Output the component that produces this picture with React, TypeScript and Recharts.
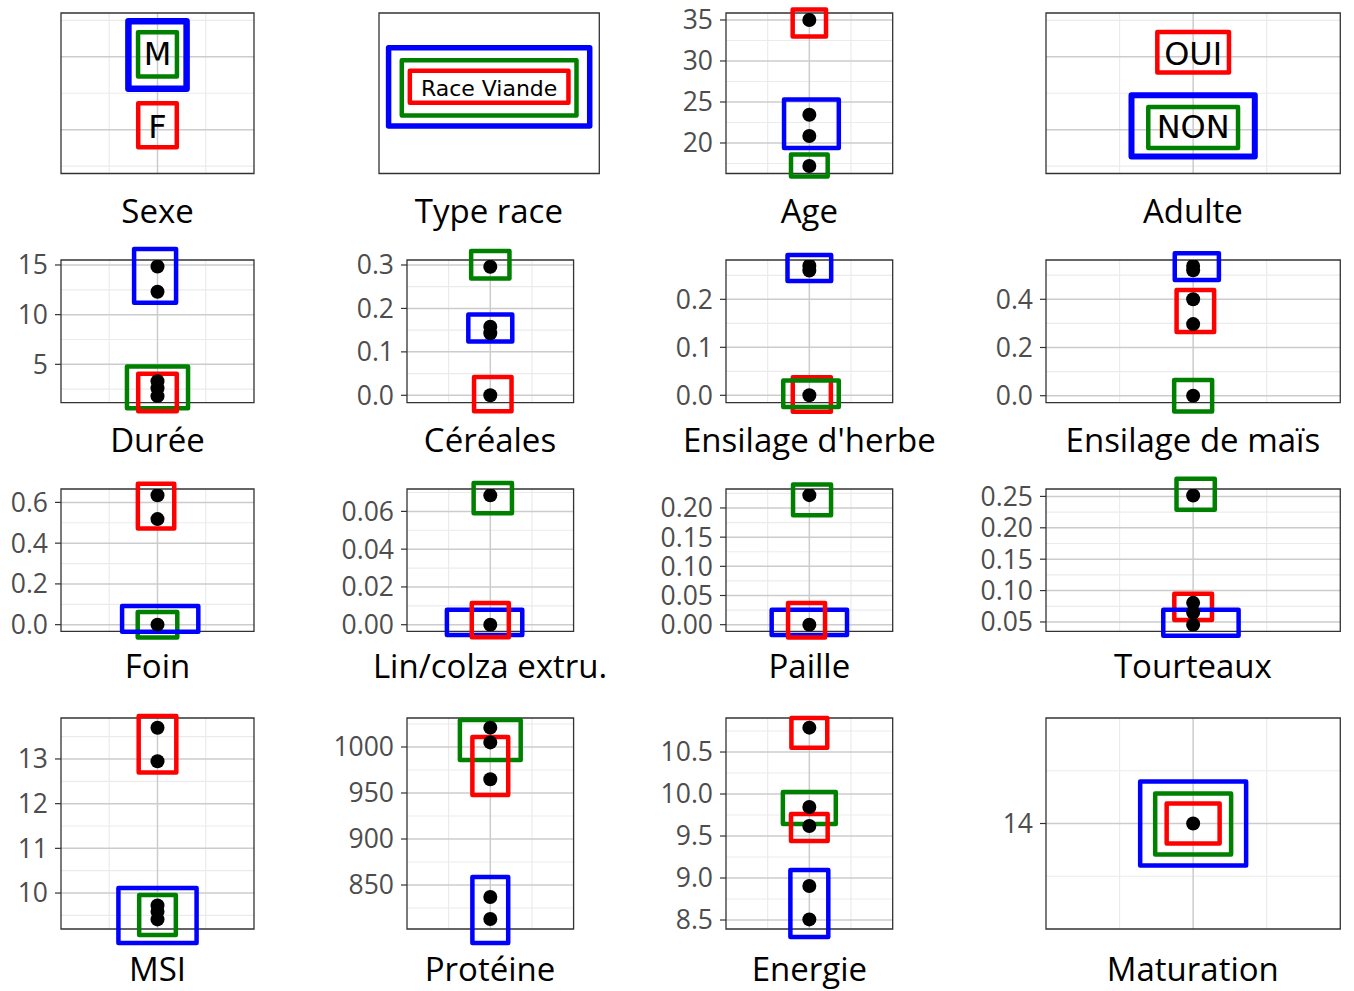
import React from 'react';
import { ScatterChart, Scatter, XAxis, YAxis, ReferenceLine, ReferenceArea } from 'recharts';

// cluster boxes: y1/y2 in data units, hw = half width on the 0..4 x scale, x = centre (default 2)
type Box = { cl: 'red' | 'green' | 'blue'; y1: number; y2: number; hw: number; x?: number };

// --- categorical panels ---
const sexeLabels = ['F', 'M'];
const sexeBoxes: Box[] = [
  { cl: 'blue', y1: 1.56, y2: 2.486, hw: 0.603 },
  { cl: 'green', y1: 1.728, y2: 2.337, hw: 0.403 },
  { cl: 'red', y1: 0.759, y2: 1.364, hw: 0.4 },
];

const raceLabels = ['Race Viande'];
const raceBoxes: Box[] = [
  { cl: 'blue', y1: 0.755, y2: 1.34, hw: 1.826 },
  { cl: 'green', y1: 0.834, y2: 1.247, hw: 1.586 },
  { cl: 'red', y1: 0.929, y2: 1.168, hw: 1.44 },
];

const adulteLabels = ['NON', 'OUI'];
const adulteBoxes: Box[] = [
  { cl: 'red', y1: 1.784, y2: 2.34, hw: 0.487 },
  { cl: 'blue', y1: 0.632, y2: 1.474, hw: 0.838 },
  { cl: 'green', y1: 0.749, y2: 1.311, hw: 0.61 },
];

// --- numeric panels ---
const ageValues = [35, 23.45, 20.85, 17.2];
const ageTicks = [20, 25, 30, 35];
const ageMinor = [17.5, 22.5, 27.5, 32.5];
const ageBoxes: Box[] = [
  { cl: 'green', y1: 15.9, y2: 18.6, hw: 0.44 },
  { cl: 'red', y1: 33.0, y2: 36.28, hw: 0.4 },
  { cl: 'blue', y1: 19.38, y2: 25.31, hw: 0.657, x: 2.05 },
];

const dureeValues = [14.85, 12.3, 3.3, 2.6, 1.8];
const dureeTicks = [5, 10, 15];
const dureeMinor = [2.5, 7.5, 12.5];
const dureeBoxes: Box[] = [
  { cl: 'blue', y1: 11.19, y2: 16.6, hw: 0.435, x: 1.95 },
  { cl: 'green', y1: 0.57, y2: 4.77, hw: 0.633 },
  { cl: 'red', y1: 0.27, y2: 4.06, hw: 0.4 },
];

const cerealesValues = [0.296, 0.158, 0.143, 0];
const cerealesTicks = [0, 0.1, 0.2, 0.3];
const cerealesMinor = [0.05, 0.15, 0.25];
const cerealesBoxes: Box[] = [
  { cl: 'green', y1: 0.2687, y2: 0.3325, hw: 0.46 },
  { cl: 'blue', y1: 0.1236, y2: 0.186, hw: 0.528 },
  { cl: 'red', y1: -0.0368, y2: 0.0422, hw: 0.45, x: 2.06 },
];

const herbeValues = [0.27, 0.26, 0];
const herbeTicks = [0, 0.1, 0.2];
const herbeMinor = [0.05, 0.15, 0.25];
const herbeBoxes: Box[] = [
  { cl: 'blue', y1: 0.238, y2: 0.2923, hw: 0.524 },
  { cl: 'red', y1: -0.0341, y2: 0.0375, hw: 0.457, x: 2.06 },
  { cl: 'green', y1: -0.0244, y2: 0.0306, hw: 0.666, x: 2.04 },
];

const maisValues = [0.538, 0.52, 0.4, 0.297, 0];
const maisTicks = [0, 0.2, 0.4];
const maisMinor = [0.1, 0.3, 0.5];
const maisBoxes: Box[] = [
  { cl: 'blue', y1: 0.48, y2: 0.591, hw: 0.3, x: 2.05 },
  { cl: 'red', y1: 0.2644, y2: 0.4387, hw: 0.255, x: 2.03 },
  { cl: 'green', y1: -0.066, y2: 0.065, hw: 0.258 },
];

const foinValues = [0.635, 0.518, 0];
const foinTicks = [0, 0.2, 0.4, 0.6];
const foinMinor = [0.1, 0.3, 0.5];
const foinBoxes: Box[] = [
  { cl: 'green', y1: -0.0624, y2: 0.062, hw: 0.41 },
  { cl: 'blue', y1: -0.0345, y2: 0.0915, hw: 0.79, x: 2.056 },
  { cl: 'red', y1: 0.472, y2: 0.691, hw: 0.377, x: 1.97 },
];

const linValues = [0.0685, 0];
const linTicks = [0, 0.02, 0.04, 0.06];
const linMinor = [0.01, 0.03, 0.05, 0.07];
const linBoxes: Box[] = [
  { cl: 'green', y1: 0.059, y2: 0.075, hw: 0.46, x: 2.06 },
  { cl: 'blue', y1: -0.0055, y2: 0.00794, hw: 0.905, x: 1.863 },
  { cl: 'red', y1: -0.0067, y2: 0.0115, hw: 0.445 },
];

const pailleValues = [0.222, 0];
const pailleTicks = [0, 0.05, 0.1, 0.15, 0.2];
const pailleMinor = [0.025, 0.075, 0.125, 0.175, 0.225];
const pailleBoxes: Box[] = [
  { cl: 'green', y1: 0.1876, y2: 0.2404, hw: 0.456, x: 2.065 },
  { cl: 'blue', y1: -0.0178, y2: 0.0257, hw: 0.904 },
  { cl: 'red', y1: -0.0218, y2: 0.0371, hw: 0.444, x: 1.933 },
];

const tourteauxValues = [0.2515, 0.0805, 0.065, 0.0455];
const tourteauxTicks = [0.05, 0.1, 0.15, 0.2, 0.25];
const tourteauxMinor = [0.075, 0.125, 0.175, 0.225];
const tourteauxBoxes: Box[] = [
  { cl: 'green', y1: 0.2288, y2: 0.2782, hw: 0.26, x: 2.034 },
  { cl: 'red', y1: 0.053, y2: 0.095, hw: 0.256 },
  { cl: 'blue', y1: 0.0281, y2: 0.0696, hw: 0.512, x: 2.106 },
];

const msiValues = [13.7, 12.95, 9.72, 9.58, 9.41];
const msiTicks = [10, 11, 12, 13];
const msiMinor = [9.5, 10.5, 11.5, 12.5, 13.5];
const msiBoxes: Box[] = [
  { cl: 'red', y1: 12.7, y2: 13.96, hw: 0.39 },
  { cl: 'blue', y1: 8.88, y2: 10.11, hw: 0.81 },
  { cl: 'green', y1: 9.06, y2: 9.955, hw: 0.38 },
];

const proteineValues = [1021, 1005, 965, 837, 813];
const proteineTicks = [850, 900, 950, 1000];
const proteineMinor = [825, 875, 925, 975, 1025];
const proteineBoxes: Box[] = [
  { cl: 'green', y1: 985.9, y2: 1029.3, hw: 0.73 },
  { cl: 'red', y1: 947.8, y2: 1010.9, hw: 0.43 },
  { cl: 'blue', y1: 787, y2: 858.7, hw: 0.43 },
];

const energieValues = [10.79, 9.845, 9.62, 8.905, 8.507];
const energieTicks = [8.5, 9, 9.5, 10, 10.5];
const energieMinor = [8.75, 9.25, 9.75, 10.25, 10.75];
const energieBoxes: Box[] = [
  { cl: 'red', y1: 10.55, y2: 10.905, hw: 0.43 },
  { cl: 'green', y1: 9.643, y2: 10.024, hw: 0.635 },
  { cl: 'red', y1: 9.44, y2: 9.762, hw: 0.44 },
  { cl: 'blue', y1: 8.298, y2: 9.095, hw: 0.455 },
];

const maturationValues = [14];
const maturationTicks = [14];
const maturationMinor = [13.75, 14.25];
const maturationBoxes: Box[] = [
  { cl: 'blue', y1: 13.801, y2: 14.199, hw: 0.72 },
  { cl: 'green', y1: 13.853, y2: 14.142, hw: 0.516 },
  { cl: 'red', y1: 13.905, y2: 14.095, hw: 0.36 },
];

const clusterColor = { red: '#ff0000', green: '#008000', blue: '#0000ff' };

// plot rectangles [left, top, width, height] in page pixels
const COL = [[61, 193], [406.7, 166.6], [726, 166.7], [1045.7, 294.3]];
const ROW = [[12.5, 160.5], [260, 142.7], [489.3, 142.4], [718, 211]];
const TITLE_BASE = [222.7, 452.3, 678.3, 980.5];

type Panel = {
  name: string; col: number; row: number; domain: [number, number];
  values?: number[]; labels?: string[]; ticks?: number[]; minor?: number[];
  boxes: Box[]; dec?: number; noGrid?: boolean; blueWidth?: number; xSpan?: [number, number];
};

const panels: Panel[] = [
  { name: 'Sexe', col: 0, row: 0, domain: [0.4, 2.6], labels: sexeLabels, boxes: sexeBoxes, blueWidth: 6.5 },
  { name: 'Type race', col: 1, row: 0, domain: [0.4, 1.6], labels: raceLabels, boxes: raceBoxes, noGrid: true, blueWidth: 5.5, xSpan: [378.7, 220.3] },
  { name: 'Age', col: 2, row: 0, domain: [16.28, 35.85], values: ageValues, ticks: ageTicks, minor: ageMinor, boxes: ageBoxes, dec: 0 },
  { name: 'Adulte', col: 3, row: 0, domain: [0.4, 2.6], labels: adulteLabels, boxes: adulteBoxes, blueWidth: 6 },
  { name: 'Durée', col: 0, row: 1, domain: [1.14, 15.5], values: dureeValues, ticks: dureeTicks, minor: dureeMinor, boxes: dureeBoxes, dec: 0 },
  { name: 'Céréales', col: 1, row: 1, domain: [-0.017, 0.3115], values: cerealesValues, ticks: cerealesTicks, minor: cerealesMinor, boxes: cerealesBoxes, dec: 1 },
  { name: "Ensilage d'herbe", col: 2, row: 1, domain: [-0.0154, 0.2819], values: herbeValues, ticks: herbeTicks, minor: herbeMinor, boxes: herbeBoxes, dec: 1 },
  { name: 'Ensilage de maïs', col: 3, row: 1, domain: [-0.029, 0.563], values: maisValues, ticks: maisTicks, minor: maisMinor, boxes: maisBoxes, dec: 1 },
  { name: 'Foin', col: 0, row: 2, domain: [-0.033, 0.6657], values: foinValues, ticks: foinTicks, minor: foinMinor, boxes: foinBoxes, dec: 1 },
  { name: 'Lin/colza extru.', col: 1, row: 2, domain: [-0.00354, 0.07185], values: linValues, ticks: linTicks, minor: linMinor, boxes: linBoxes, dec: 2 },
  { name: 'Paille', col: 2, row: 2, domain: [-0.0115, 0.2325], values: pailleValues, ticks: pailleTicks, minor: pailleMinor, boxes: pailleBoxes, dec: 2 },
  { name: 'Tourteaux', col: 3, row: 2, domain: [0.035, 0.2618], values: tourteauxValues, ticks: tourteauxTicks, minor: tourteauxMinor, boxes: tourteauxBoxes, dec: 2 },
  { name: 'MSI', col: 0, row: 3, domain: [9.195, 13.917], values: msiValues, ticks: msiTicks, minor: msiMinor, boxes: msiBoxes, dec: 0 },
  { name: 'Protéine', col: 1, row: 3, domain: [802.2, 1031.5], values: proteineValues, ticks: proteineTicks, minor: proteineMinor, boxes: proteineBoxes, dec: 0 },
  { name: 'Energie', col: 2, row: 3, domain: [8.393, 10.905], values: energieValues, ticks: energieTicks, minor: energieMinor, boxes: energieBoxes, dec: 1 },
  { name: 'Maturation', col: 3, row: 3, domain: [13.5, 14.5], values: maturationValues, ticks: maturationTicks, minor: maturationMinor, boxes: maturationBoxes, dec: 0 },
];

const YW = 95;
const PAD = 24;
const MAJOR = '#cccccc';
const MINOR = '#ebebeb';

const Dot = (props: any) => <circle cx={props.cx} cy={props.cy} r={7} fill="#000" />;

const labelShape = (size: number, dy: number) => (props: any) => (
  <text x={props.cx} y={props.cy + dy} textAnchor="middle" fontSize={size} fontFamily="DejaVu Sans" fill="#000">
    {props.payload.label}
  </text>
);

function PanelChart({ p }: { p: Panel }) {
  const [left, w] = p.xSpan ?? COL[p.col];
  const [top, h] = ROW[p.row];
  const isCat = !!p.labels;
  const data = isCat
    ? p.labels!.map((t, i) => ({ x: 2, y: i + 1, label: t }))
    : p.values!.map((v) => ({ x: 2, y: v }));
  const majorY = isCat ? p.labels!.map((_, i) => i + 1) : p.ticks!;
  const minorY = isCat ? [0.5, 1.5, 2.5].filter((v) => v < p.domain[1]) : p.minor!;
  const isRace = p.name === 'Type race';

  return (
    <div style={{ position: 'absolute', left: left - YW, top: top - PAD }}>
      <ScatterChart width={YW + w + PAD} height={PAD + h + PAD} margin={{ top: PAD, right: PAD, bottom: PAD, left: 0 }}>
        <XAxis type="number" dataKey="x" domain={[0, 4]} allowDataOverflow hide />
        {isCat ? (
          <YAxis type="number" dataKey="y" domain={p.domain} allowDataOverflow width={YW} tick={false} tickLine={false} axisLine={false} />
        ) : (
          <YAxis
            type="number"
            dataKey="y"
            domain={p.domain}
            allowDataOverflow
            ticks={p.ticks}
            interval={0}
            width={YW}
            axisLine={false}
            tickSize={6}
            tickMargin={7}
            tickLine={{ stroke: '#333', strokeWidth: 1.2 }}
            tick={{ fill: '#4d4d4d', fontSize: 26.5, fontFamily: 'Open Sans' }}
            tickFormatter={(v: number) => v.toFixed(p.dec ?? 0)}
          />
        )}
        {!p.noGrid && minorY.map((v) => (
          <ReferenceLine key={'mn' + v} y={v} stroke={MINOR} strokeWidth={1.2} zIndex={-60} />
        ))}
        {!p.noGrid && [1, 3].map((v) => (
          <ReferenceLine key={'mv' + v} x={v} stroke={MINOR} strokeWidth={1.2} zIndex={-60} />
        ))}
        {!p.noGrid && majorY.map((v) => (
          <ReferenceLine key={'mj' + v} y={v} stroke={MAJOR} strokeWidth={1.5} zIndex={-55} />
        ))}
        {!p.noGrid && <ReferenceLine x={2} stroke={MAJOR} strokeWidth={1.5} zIndex={-55} />}
        <ReferenceArea x1={0} x2={4} y1={p.domain[0]} y2={p.domain[1]} fill="none" fillOpacity={0} stroke="#333" strokeWidth={1.3} zIndex={-50} />
        {p.boxes.map((b, i) => (
          <ReferenceArea
            key={'b' + i}
            x1={(b.x ?? 2) - b.hw}
            x2={(b.x ?? 2) + b.hw}
            y1={b.y1}
            y2={b.y2}
            ifOverflow="visible"
            fill="none"
            fillOpacity={0}
            stroke={clusterColor[b.cl]}
            strokeWidth={b.cl === 'blue' && p.blueWidth ? p.blueWidth : 4.5}
            strokeLinejoin="round"
            zIndex={100 + i}
          />
        ))}
        <Scatter
          data={data}
          isAnimationActive={false}
          shape={isCat ? labelShape(isRace ? 22 : 32, isRace ? 2.3 : 8.5) : Dot}
        />
      </ScatterChart>
    </div>
  );
}

export default function App() {
  return (
    <div style={{ position: 'absolute', left: 0, top: 0, width: 1354, height: 991, background: '#fff', overflow: 'hidden' }}>
      {panels.map((p) => (
        <PanelChart key={p.name} p={p} />
      ))}
      <svg width={1354} height={991} style={{ position: 'absolute', left: 0, top: 0, pointerEvents: 'none' }}>
        {panels.map((p) => {
          const [left, w] = p.xSpan ?? COL[p.col];
          return (
            <text key={p.name} x={left + w / 2} y={TITLE_BASE[p.row]} textAnchor="middle" fontSize={33} fontFamily="Open Sans" fill="#000">
              {p.name}
            </text>
          );
        })}
      </svg>
    </div>
  );
}
